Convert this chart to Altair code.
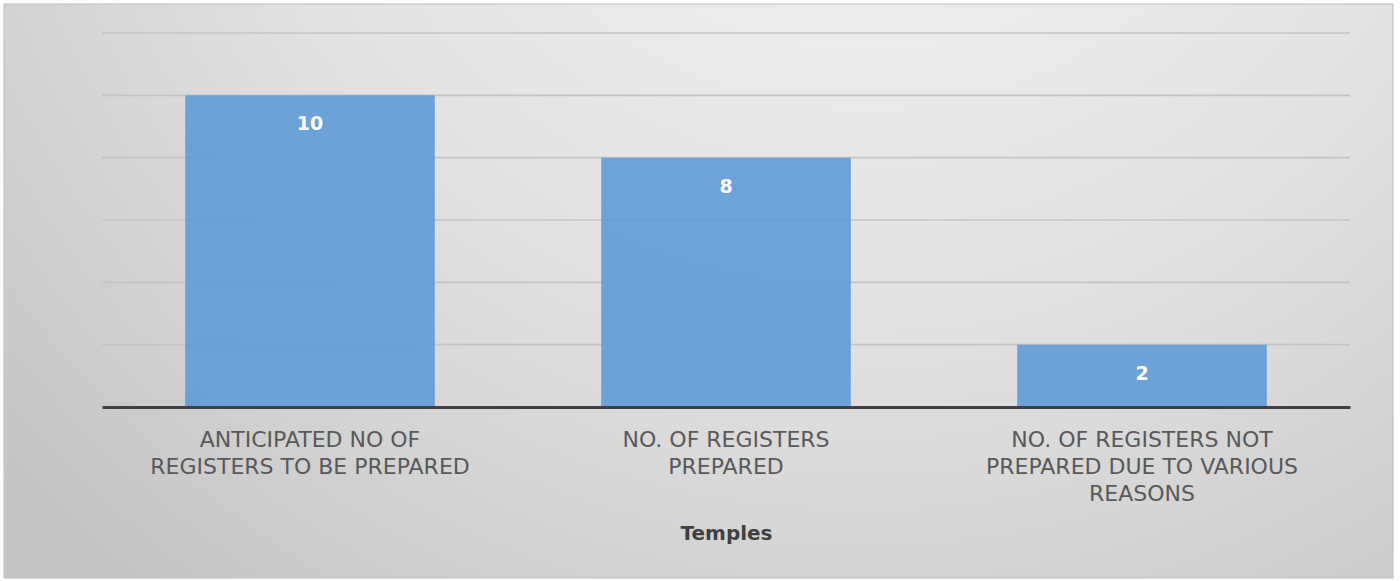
import altair as alt
import pandas as pd

categories = [
    "ANTICIPATED NO OF|REGISTERS TO BE PREPARED",
    "NO. OF REGISTERS|PREPARED",
    "NO. OF REGISTERS NOT|PREPARED DUE TO VARIOUS|REASONS",
]
values = [10, 8, 2]
grid_values = [2, 4, 6, 8, 10, 12]

df = pd.DataFrame({"category": categories, "value": values})
grid_df = pd.DataFrame({"v": grid_values})
bg_df = pd.DataFrame({"a": [0]})

FONT = "DejaVu Sans"
yscale = alt.Scale(domain=[0, 12], nice=False)

bg = alt.Chart(bg_df).mark_rect(
    fill={
        "gradient": "radial",
        "x1": 0.62, "y1": 0.05, "r1": 0.0,
        "x2": 0.62, "y2": 0.05, "r2": 0.85,
        "stops": [
            {"offset": 0.0, "color": "#f8f8f8"},
            {"offset": 0.55, "color": "#e2e2e2"},
            {"offset": 1.0, "color": "#c4c4c4"},
        ],
    },
    stroke="#bdbdbd",
    strokeWidth=1,
).encode(
    x=alt.value(-98), x2=alt.value(1291),
    y=alt.value(-29), y2=alt.value(545),
)

grid = alt.Chart(grid_df).mark_rule(color="#c4c4c4", strokeWidth=1.6).encode(
    y=alt.Y("v:Q", scale=yscale, axis=None),
)

base = alt.Chart(df).encode(
    x=alt.X(
        "category:N",
        sort=None,
        scale=alt.Scale(paddingInner=0.4, paddingOuter=0.2),
        axis=alt.Axis(
            title="Temples",
            labelExpr="split(datum.label, '|')",
            labelAngle=0,
            labelFont=FONT,
            labelFontSize=22,
            labelColor="#595959",
            labelLineHeight=27,
            labelPadding=22,
            labelLimit=0,
            ticks=False,
            domainColor="#404040",
            domainWidth=3,
            titleFont=FONT,
            titleFontSize=20,
            titleFontWeight="bold",
            titleColor="#404040",
            titlePadding=19,
            zindex=1,
        ),
    ),
    y=alt.Y(
        "value:Q",
        scale=yscale,
        axis=alt.Axis(
            title="Quantity",
            labels=False,
            ticks=False,
            domain=False,
            grid=False,
            titleFont=FONT,
            titleFontSize=19,
            titleFontWeight="normal",
            titleColor="#404040",
            titlePadding=12,
            zindex=1,
        ),
    ),
)

bars = base.mark_bar(color="#5f9bd6", opacity=0.9)
labels = base.mark_text(
    color="white", font=FONT, fontSize=19, fontWeight="bold", dy=29, baseline="middle"
).encode(text="value:Q")

chart = alt.layer(bg, grid, bars, labels).properties(
    width=1248,
    height=374,
    autosize=alt.AutoSizeParams(type="none"),
    padding={"left": 102, "top": 33, "right": 50, "bottom": 174},
    background="white",
).configure_view(stroke=None)

chart.save("out.html", embed_options={"renderer": "svg", "actions": False})
